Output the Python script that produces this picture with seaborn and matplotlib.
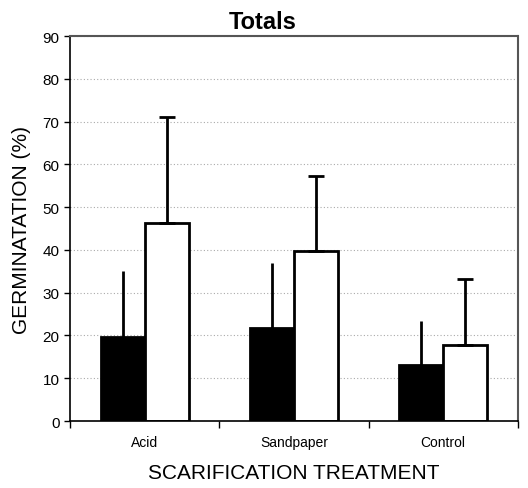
import pandas as pd
import seaborn as sns
import matplotlib.pyplot as plt
from matplotlib.ticker import FixedLocator

treatments = ['Acid', 'Sandpaper', 'Control']
groups = ['A', 'B']
mean_a = [19.7, 21.8, 13.0]
mean_b = [46.3, 39.7, 17.8]
upper_a = [35.0, 37.0, 23.5]
upper_b = [71.0, 57.3, 33.3]

df = pd.DataFrame({
    'treatment': treatments * 2,
    'group': ['A'] * 3 + ['B'] * 3,
    'value': mean_a + mean_b,
})

sns.set_style('white')
plt.rcParams['font.family'] = ['Liberation Sans', 'DejaVu Sans']
plt.rcParams['text.color'] = 'black'
plt.rcParams['axes.labelcolor'] = 'black'
plt.rcParams['xtick.color'] = 'black'
plt.rcParams['ytick.color'] = 'black'

fig = plt.figure(figsize=(5.28, 4.89), dpi=100)
ax = fig.add_axes([0.1326, 0.137, 0.848, 0.787])

sns.barplot(data=df, x='treatment', y='value', hue='group', order=treatments,
            hue_order=groups, palette={'A': 'black', 'B': 'white'},
            edgecolor='black', linewidth=2, width=0.59, legend=False, ax=ax)

# upward error bars from the bar centres seaborn placed
bars = ax.patches
for i, b in enumerate(bars[:6]):
    g, k = divmod(i, 3)
    mean = (mean_a, mean_b)[g][k]
    top = (upper_a, upper_b)[g][k]
    xc = b.get_x() + b.get_width() / 2
    ax.errorbar(xc, mean, yerr=[[0], [top - mean]], fmt='none', ecolor='black',
                elinewidth=2, capsize=0 if g == 0 else 6, capthick=2, zorder=1)

ax.set_ylim(0, 90)
ax.set_xlim(-0.5, 2.5)
ax.set_yticks(range(0, 91, 10))
ax.yaxis.grid(True, linestyle=(0, (1, 2)), color='#aaaaaa', linewidth=0.8)
ax.set_axisbelow(True)

ax.xaxis.set_major_locator(FixedLocator([-0.5, 0.5, 1.5, 2.5]))
ax.set_xticklabels([])
ax.xaxis.set_minor_locator(FixedLocator([0, 1, 2]))
ax.set_xticklabels(treatments, minor=True, fontsize=10)
ax.tick_params(axis='x', which='major', direction='out', length=5, width=1, bottom=True)
ax.tick_params(axis='x', which='minor', length=0, pad=10)
ax.tick_params(axis='y', direction='out', length=4, width=1, left=True, labelsize=11)

for s in ['left', 'bottom']:
    ax.spines[s].set_color('black')
    ax.spines[s].set_linewidth(1.2)
for s in ['top', 'right']:
    ax.spines[s].set_color('#555555')
    ax.spines[s].set_linewidth(1.5)
    ax.spines[s].set_linestyle((0, (1, 1)))

ax.set_title('Totals', fontsize=17, fontweight='bold', pad=6, x=0.43)
ax.set_ylabel('GERMINATATION (%)', fontsize=15, labelpad=8)
ax.set_xlabel('SCARIFICATION TREATMENT', fontsize=15, labelpad=10)

plt.savefig('out.png', dpi=100)
